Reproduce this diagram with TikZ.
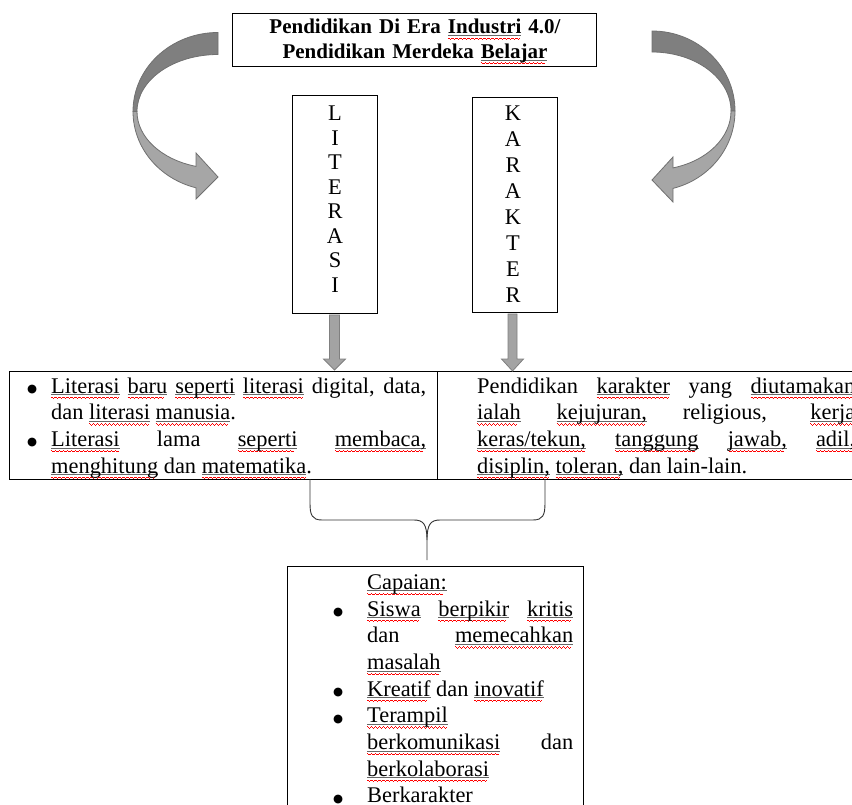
\documentclass[tikz,border=0pt]{standalone}
\usepackage{fontspec}
\setmainfont{Liberation Serif}
\newfontfamily\symfont{DejaVu Sans}
\tolerance=10000 \hbadness=10000
\newcommand\bodyfont{\fontsize{22.4}{26.7}\selectfont}
\newcommand\wavepiece{\hbox{\vrule width1pt height-3.6pt depth4.4pt\vrule width1pt height-4.2pt depth5pt\vrule width1pt height-4.8pt depth5.6pt\vrule width1pt height-4.2pt depth5pt}}
\newcommand\sq[1]{\leavevmode\setbox0\hbox{#1}\rlap{\color{black!60}\vrule width\wd0 height-1.1pt depth1.7pt}\rlap{\color{red}\leaders\wavepiece\hskip\wd0}\box0\relax}
\newcommand\bul[1]{\leavevmode\llap{\makebox[#1][l]{\raisebox{0.8pt}{\symfont\fontsize{11.5}{11.5}\selectfont ●}}}}
\definecolor{arrdark}{HTML}{7F7F7F}
\definecolor{arrlight}{HTML}{A6A6A6}
\definecolor{arrline}{HTML}{707070}
\definecolor{darrfill}{HTML}{A3A3A3}
\definecolor{darrline}{HTML}{808080}
\tikzset{
  box/.style={draw=black, line width=1pt, inner sep=0pt, anchor=north west},
  txt/.style={inner sep=0pt, font=\bodyfont, anchor=base west, align=justify},
  darkpart/.style={fill=arrdark, draw=arrline, line width=0.8pt},
  lightpart/.style={fill=arrlight, draw=arrline, line width=0.8pt},
  blockarrow/.style={fill=darrfill, draw=darrline, line width=0.8pt},
  bracestyle/.style={draw=black!80, line width=0.9pt},
}
\begin{document}
\begin{tikzpicture}[x=1pt,y=-1pt]
\useasboundingbox (0,0) rectangle (852,805);
\clip (0,0) rectangle (852,805);

% title
\node[box, minimum width=364pt, minimum height=53pt] (title) at (232,13) {};
\node[inner sep=0pt, anchor=base, align=center, text width=360pt,
      font=\bfseries\fontsize{21}{24.5}\selectfont] (titletext) at (415,34)
  {Pendidikan Di Era \sq{Industri} 4.0/\\Pendidikan Merdeka \sq{Belajar}};

% curved arrows
\path[darkpart] (218,32.5) arc[start angle=-90, end angle=-180, x radius=85, y radius=79]
   -- (137,111.5) arc[start angle=180, end angle=270, x radius=81, y radius=57] -- cycle;
\path[lightpart] (133,111.5) arc[start angle=180, end angle=105, x radius=85, y radius=79]
   -- (196,199) -- (218,177) -- (196,153) -- (196,166.4)
   arc[start angle=105.76, end angle=180, x radius=81, y radius=57] -- cycle;

\path[darkpart] (652,31) arc[start angle=-90, end angle=0, x radius=83, y radius=80]
   -- (731,111) arc[start angle=0, end angle=-90, x radius=79, y radius=59] -- cycle;
\path[lightpart] (735,111) arc[start angle=0, end angle=75.34, x radius=83, y radius=80]
   -- (673,202) -- (652,180) -- (673,157) -- (673,167.9)
   arc[start angle=74.59, end angle=0, x radius=79, y radius=59] -- cycle;

% vertical boxes
\node[box, minimum width=85pt, minimum height=218pt] (lit) at (292,95) {};
\node[inner sep=0pt, anchor=base, align=center, text width=30pt,
      font=\fontsize{22.4}{24.57}\selectfont] (littext) at (335,120.5)
  {L\\I\\T\\E\\R\\A\\S\\I};
\node[box, minimum width=85pt, minimum height=215pt] (kar) at (472,97) {};
\node[inner sep=0pt, anchor=base, align=center, text width=30pt,
      font=\fontsize{22.4}{26}\selectfont] (kartext) at (513,120.5)
  {K\\A\\R\\A\\K\\T\\E\\R};

% table cells
\node[box, minimum width=428pt, minimum height=108pt] (cellL) at (9,371) {};
\node[box, minimum width=460pt, minimum height=108pt] (cellR) at (437,371) {};

% down arrows
\path[blockarrow] ([xshift=-0.5pt]lit.south) ++(-5,1) -- ++(0,44) -- ++(-6,0) -- ++(11,11)
   -- ++(11,-11) -- ++(-6,0) -- ++(0,-44) -- cycle;
\path[blockarrow] ([xshift=-2.5pt]kar.south) ++(-4.5,1) -- ++(0,45) -- ++(-6.5,0) -- ++(11,12)
   -- ++(11,-12) -- ++(-6.5,0) -- ++(0,-45) -- cycle;

% cell texts
\node[txt, text width=375pt] (ltext) at (51,393)
  {\bul{24pt}\sq{Literasi} \sq{baru} \sq{seperti} \sq{literasi} digital, data,\linebreak dan \sq{literasi} \sq{manusia}.\par
   \bul{24pt}\sq{Literasi} lama \sq{seperti} \sq{membaca,}\linebreak \sq{menghitung} dan \sq{matematika}.\par};

\node[txt, text width=378pt] (rtext) at (477,393)
  {Pendidikan \sq{karakter} yang \sq{diutamakan}\linebreak \sq{ialah} \sq{kejujuran,} religious, \sq{kerja}\linebreak \sq{keras/tekun,} \sq{tanggung} \sq{jawab,} \sq{adil,}\linebreak \sq{disiplin,} \sq{toleran,} dan lain-lain.\par};

% brace
\coordinate (bl) at (310,479);
\coordinate (br) at (545,479);
\coordinate (bt) at (427,560);
\draw[bracestyle] (bl) -- (310,503) .. controls (310,515) and (312,520) .. (322,520) -- (414,520)
   .. controls (423,520) and (427,524) .. (427,540) -- (bt);
\draw[bracestyle] (br) -- (545,503) .. controls (545,515) and (543,520) .. (533,520) -- (440,520)
   .. controls (431,520) and (427,524) .. (427,540);

% capaian box
\node[box, minimum width=296pt, minimum height=260pt] (cap) at (287,566) {};
\node[txt, text width=206pt] (ctext) at (367,589.3)
  {\sq{Capaian:}\par
   \bul{34pt}\sq{Siswa} \sq{berpikir} \sq{kritis}\linebreak dan \sq{memecahkan}\linebreak \sq{masalah}\par
   \bul{34pt}\sq{Kreatif} dan \sq{inovatif}\par
   \bul{34pt}\sq{Terampil}\linebreak \sq{berkomunikasi} dan\linebreak \sq{berkolaborasi}\par
   \bul{34pt}Berkarakter\par};
\end{tikzpicture}
\end{document}
